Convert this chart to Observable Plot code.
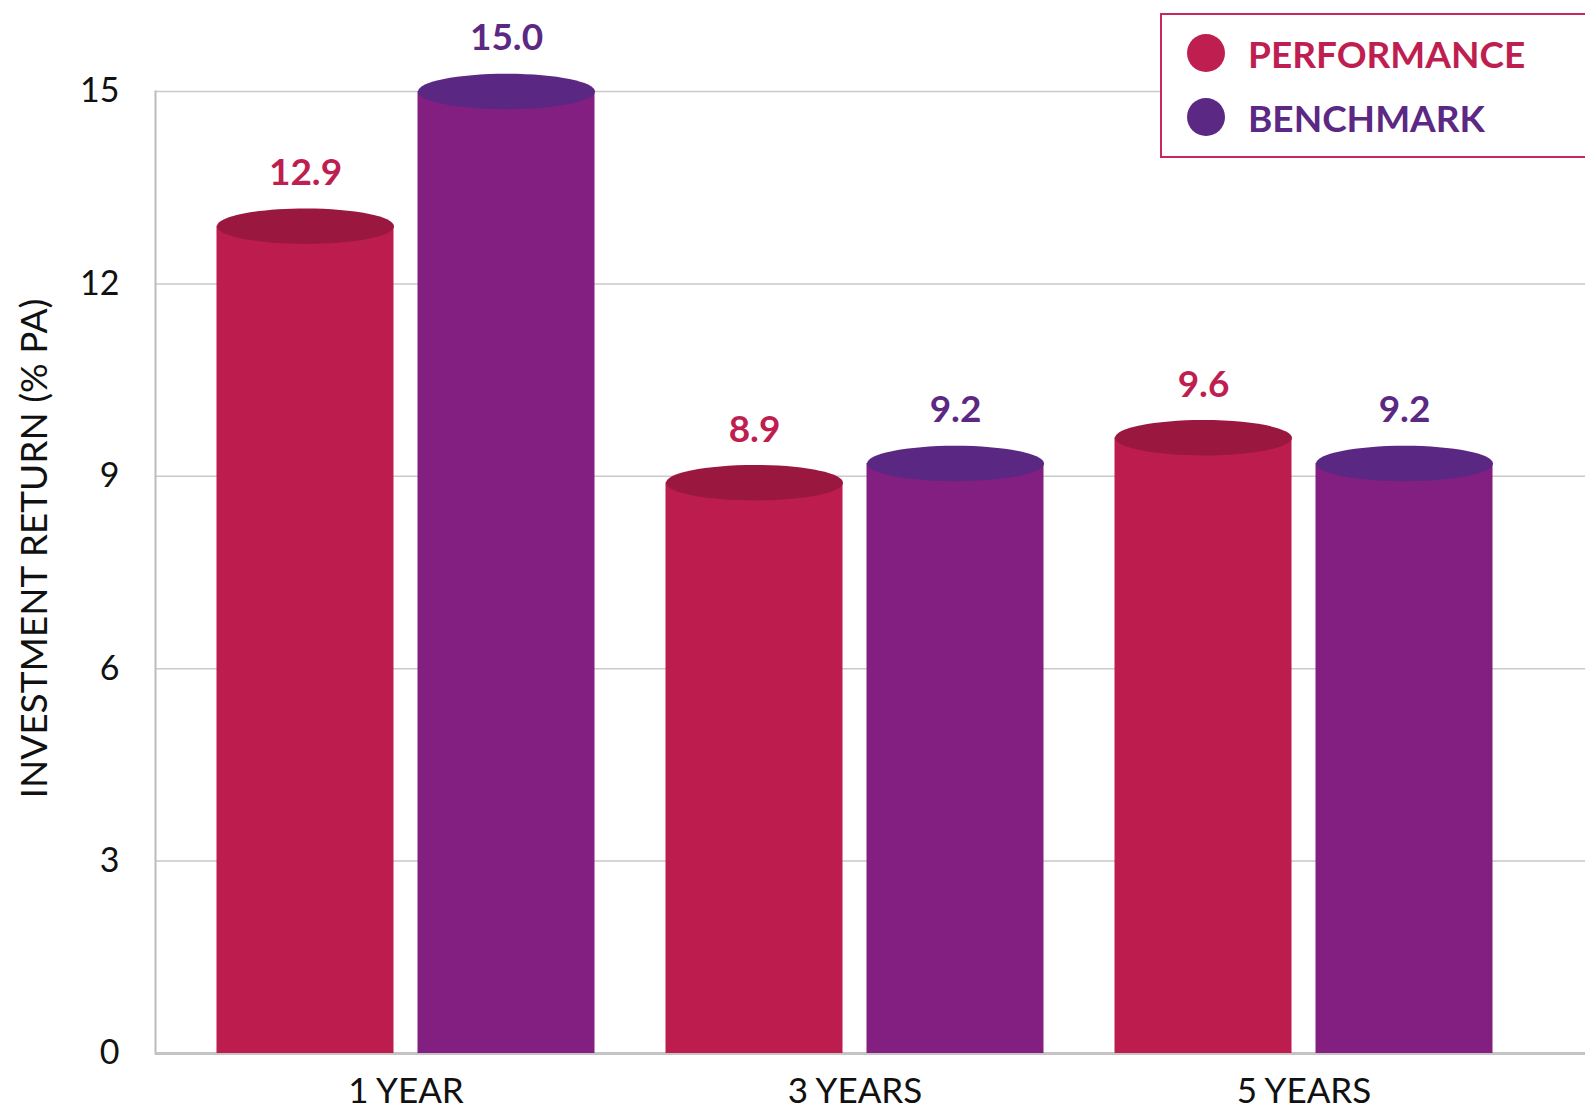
<!DOCTYPE html>
<html>
<head>
<meta charset="utf-8">
<script src="https://cdn.jsdelivr.net/npm/d3@7"></script>
<script src="https://cdn.jsdelivr.net/npm/@observablehq/plot@0.6"></script>
<style>
  html, body { margin: 0; padding: 0; background: #fff; overflow: hidden; }
  #wrap { position: relative; width: 1585px; height: 1110px; }
  #legend {
    position: absolute; left: 1160px; top: 13px; width: 460px; height: 145px;
    box-sizing: border-box; border: 2px solid #C8285A; background: #fff;
    font-family: Lato, "Open Sans", sans-serif; font-weight: 700; font-size: 37px;
  }
  .row { position: absolute; left: 25px; display: flex; align-items: center; height: 40px; }
  .sw { width: 38px; height: 38px; border-radius: 50%; margin-right: 23px; }
</style>
</head>
<body>
<div id="wrap">
  <div id="chart"></div>
  <div id="legend"></div>
</div>
<script>
// ---- data ----
const periods = ["1 YEAR", "3 YEARS", "5 YEARS"];
const series = ["PERFORMANCE", "BENCHMARK"];
const performance = [12.9, 8.9, 9.6];
const benchmark = [15.0, 9.2, 9.2];
const yTicks = [0, 3, 6, 9, 12, 15];
const yLabel = "INVESTMENT RETURN (% PA)";

// ---- styles ----
const sideColor = { PERFORMANCE: "#BD1C4F", BENCHMARK: "#821F80" };
const topColor = { PERFORMANCE: "#9A183F", BENCHMARK: "#5A2783" };
const labelColor = { PERFORMANCE: "#BE1E50", BENCHMARK: "#5B2883" };

const data = [];
periods.forEach((p, i) => {
  data.push({ period: p, series: "PERFORMANCE", value: performance[i] });
  data.push({ period: p, series: "BENCHMARK", value: benchmark[i] });
});

// layout of the two cylinders inside each period band
const bandW = 449, barW = 177, gap = 24;
const side = { PERFORMANCE: -1, BENCHMARK: 1 };
const innerInset = bandW / 2 + gap / 2;          // inset on the side facing the other bar
const outerInset = bandW / 2 - gap / 2 - barW;   // inset on the outer side
const offset = gap / 2 + barW / 2;               // bar centre distance from band centre

// flat ellipse symbol for cylinder tops
const ellipse = {
  draw(ctx, size) {
    const rx = Math.sqrt(size / Math.PI), ry = rx * 0.2, k = 0.5523;
    ctx.moveTo(-rx, 0);
    ctx.bezierCurveTo(-rx, -ry * k, -rx * k, -ry, 0, -ry);
    ctx.bezierCurveTo(rx * k, -ry, rx, -ry * k, rx, 0);
    ctx.bezierCurveTo(rx, ry * k, rx * k, ry, 0, ry);
    ctx.bezierCurveTo(-rx * k, ry, -rx, ry * k, -rx, 0);
    ctx.closePath();
  }
};

const seriesMarks = series.flatMap((s) => {
  const f = (d) => d.series === s;
  const left = side[s] < 0;
  return [
    Plot.barY(data, { filter: f, x: "period", y: "value", fill: sideColor[s],
      insetLeft: left ? outerInset : innerInset, insetRight: left ? innerInset : outerInset }),
    Plot.dot(data, { filter: f, x: "period", y: "value", dx: side[s] * offset, symbol: ellipse, r: barW / 2, fill: topColor[s], stroke: null }),
    Plot.text(data, { filter: f, x: "period", y: "value", dx: side[s] * offset, dy: -53, text: (d) => d.value.toFixed(1), fill: labelColor[s], fontSize: 37, fontWeight: 700 })
  ];
});

const chart = Plot.plot({
  width: 1585, height: 1110,
  marginLeft: 155, marginRight: 0, marginTop: 91, marginBottom: 57,
  style: { fontFamily: "Lato, 'Open Sans', sans-serif", fontSize: "34px", color: "#111", background: "#fff", overflow: "visible" },
  y: { domain: [0, 15] },
  x: { domain: periods, range: [180.5, 180.5 + 3 * bandW], padding: 0 },
  marks: [
    Plot.ruleY(yTicks.filter((t) => t > 0), { stroke: "#c9c9c9", strokeWidth: 1.5 }),
    Plot.axisY({ ticks: yTicks, tickSize: 0, tickPadding: 36, label: null, fontSize: 34 }),
    Plot.text([yLabel], { frameAnchor: "left", textAnchor: "middle", rotate: -90, dx: -120, dy: -24, fontSize: 37, fill: "#111" }),
    Plot.frame({ anchor: "left", stroke: "#bbb", strokeWidth: 2 }),
    Plot.ruleY([0], { stroke: "#c4c4c4", strokeWidth: 3 }),
    ...seriesMarks,
    Plot.axisX({ tickSize: 0, tickPadding: 25, label: null, fontSize: 35 })
  ]
});
document.getElementById("chart").appendChild(chart);

// legend
const legend = document.getElementById("legend");
series.forEach((s, i) => {
  const row = document.createElement("div");
  row.className = "row";
  row.style.top = (18 + i * 64) + "px";
  row.style.color = labelColor[s];
  const sw = document.createElement("div");
  sw.className = "sw";
  sw.style.background = labelColor[s];
  row.appendChild(sw);
  row.appendChild(document.createTextNode(s));
  legend.appendChild(row);
});
</script>
</body>
</html>
